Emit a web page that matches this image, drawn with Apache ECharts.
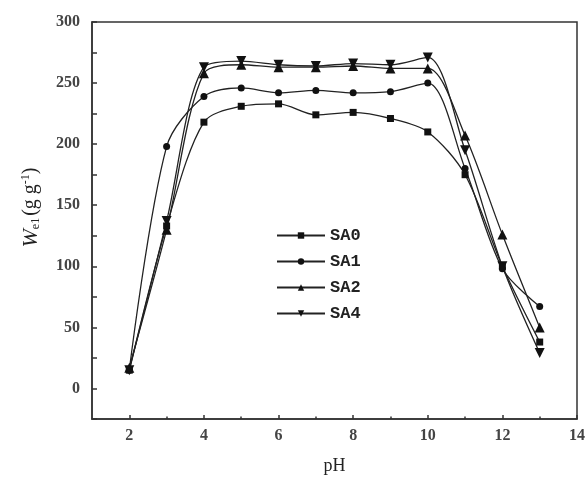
<!DOCTYPE html>
<html>
<head>
<meta charset="utf-8">
<script src="https://cdn.jsdelivr.net/npm/echarts@6/dist/echarts.min.js"></script>
<style>
  html, body { margin: 0; padding: 0; background: #fff; }
  #chart { width: 588px; height: 483px; }
</style>
</head>
<body>
<div id="chart"></div>
<script>
// pH values and adsorption for each sample
var pH = [2, 3, 4, 5, 6, 7, 8, 9, 10, 11, 12, 13];
var sa0 = [15, 133, 218, 231, 233, 224, 226, 221, 210, 175, 100, 38];
var sa1 = [15, 198, 239, 246, 242, 244, 242, 243, 250, 180, 98, 67];
var sa2 = [17, 130, 258, 265, 263, 263, 264, 262, 262, 207, 126, 50];
var sa4 = [15, 137, 263, 268, 265, 264, 266, 265, 271, 195, 100, 29];
var majorX = [2, 4, 6, 8, 10, 12, 14];
var minorX = [3, 5, 7, 9, 11, 13];

var labelFont = { color: '#444', fontFamily: 'Liberation Serif', fontWeight: 'bold', fontSize: 16 };

function pairs(ys) {
  return pH.map(function (x, i) { return [x, ys[i]]; });
}

function mkSeries(name, ys, symbol, size, rot) {
  return {
    name: name,
    type: 'line',
    data: pairs(ys),
    smooth: 0.3,
    symbol: symbol,
    symbolSize: size,
    symbolRotate: rot || 0,
    lineStyle: { color: '#222', width: 1.3 },
    itemStyle: { color: '#111' }
  };
}

var chart = echarts.init(document.getElementById('chart'));
chart.setOption({
  animation: false,
  grid: { left: 92, right: 5, top: 22, bottom: 64, show: true, borderColor: '#333', borderWidth: 1.5 },
  legend: {
    orient: 'vertical',
    left: 271,
    top: 222,
    itemWidth: 48,
    itemHeight: 8,
    itemGap: 9,
    textStyle: { color: '#222', fontFamily: 'Liberation Mono', fontWeight: 'bold', fontSize: 17 },
    data: ['SA0', 'SA1', 'SA2', 'SA4']
  },
  xAxis: [{
    type: 'value',
    min: 1, max: 14, interval: 1,
    name: 'pH',
    nameLocation: 'middle',
    nameGap: 38,
    nameTextStyle: { color: '#222', fontFamily: 'Liberation Serif', fontSize: 18 },
    axisLine: { onZero: false, lineStyle: { color: '#333', width: 1.5 } },
    axisTick: { inside: true, length: 4, customValues: majorX, lineStyle: { color: '#333', width: 1.5 } },
    axisLabel: Object.assign({ margin: 9, customValues: majorX }, labelFont),
    splitLine: { show: false }
  }, {
    type: 'value',
    min: 1, max: 14, interval: 1,
    position: 'bottom',
    axisLine: { show: false, onZero: false },
    axisTick: { inside: true, length: 2.5, customValues: minorX, lineStyle: { color: '#333', width: 1.5 } },
    axisLabel: { show: false },
    splitLine: { show: false }
  }],
  yAxis: {
    type: 'value',
    min: -25, max: 300, interval: 25,
    name: '{w|W}{s|e1}{t|(g g}{p|-1}{t|)}',
    nameLocation: 'middle',
    nameGap: 50,
    nameRotate: 90,
    nameTextStyle: {
      padding: [0, 0, 0, 26],
      rich: {
        w: { fontFamily: 'Liberation Serif', fontStyle: 'italic', fontSize: 22, color: '#222' },
        s: { fontFamily: 'Liberation Serif', fontSize: 12, color: '#222', verticalAlign: 'bottom', padding: [10, 2, 0, 0] },
        t: { fontFamily: 'Liberation Serif', fontSize: 20, color: '#222' },
        p: { fontFamily: 'Liberation Serif', fontSize: 12, color: '#222', verticalAlign: 'top', padding: [0, 0, 10, 0] }
      }
    },
    axisLine: { show: true, lineStyle: { color: '#333', width: 1.5 } },
    axisTick: { inside: true, length: 5, lineStyle: { color: '#333', width: 1.5 } },
    axisLabel: Object.assign({
      margin: 12,
      formatter: function (v) { return (v >= 0 && v % 50 === 0) ? String(v) : ''; }
    }, labelFont),
    splitLine: { show: false }
  },
  series: [
    mkSeries('SA0', sa0, 'rect', 7),
    mkSeries('SA1', sa1, 'circle', 7),
    mkSeries('SA2', sa2, 'triangle', 10),
    mkSeries('SA4', sa4, 'triangle', 10, 180)
  ]
});
</script>
</body>
</html>
